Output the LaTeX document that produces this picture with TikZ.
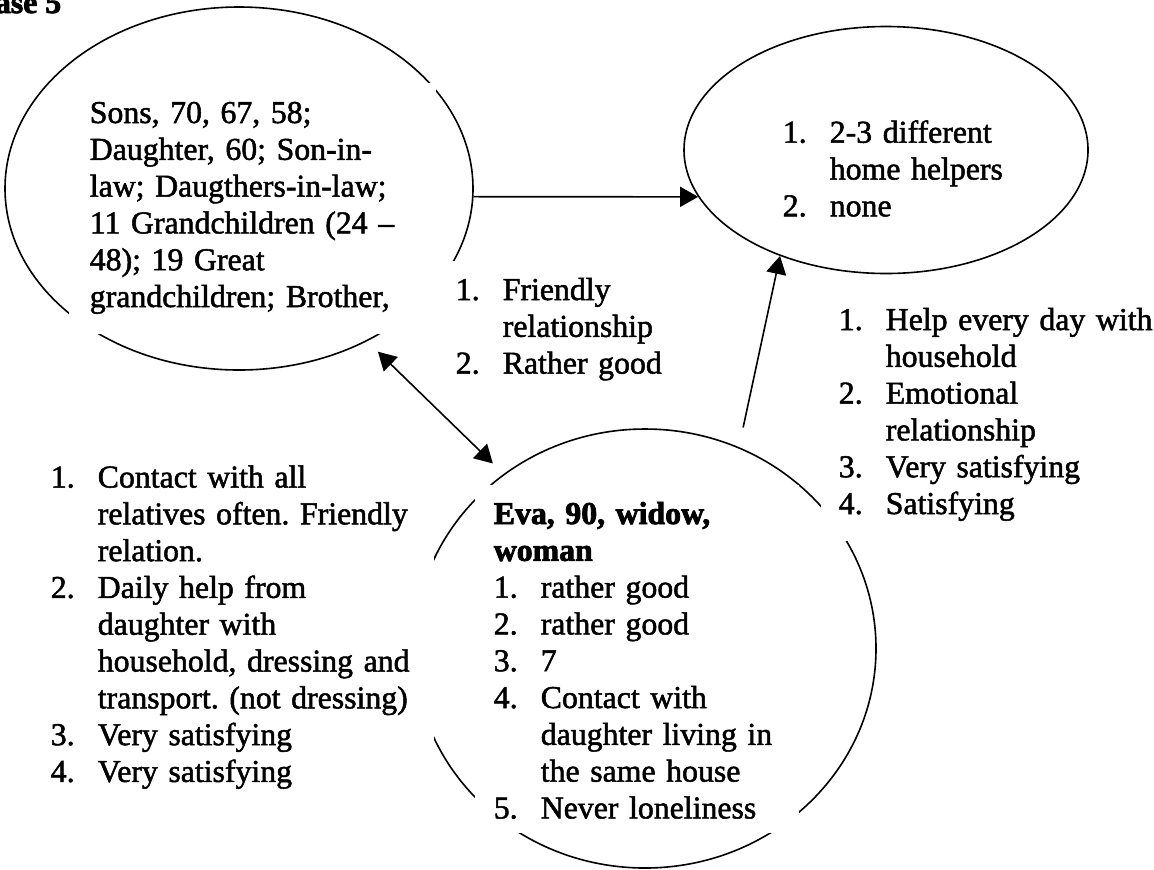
\documentclass[tikz,border=0pt]{standalone}
\usepackage{fontspec}
\setmainfont{Liberation Serif}[UprightFeatures={FakeBold=1.6},BoldFeatures={FakeBold=2.5}]
\usepackage{tikz}
\usetikzlibrary{arrows.meta}
\usetikzlibrary{shapes.geometric}

\newcommand{\numlab}[1]{\makebox[23.5pt][l]{#1}}
\newcommand{\indentl}{\hspace*{23.5pt}}
\newcommand{\txtsize}{\fontsize{15.9pt}{18.4pt}\selectfont\frenchspacing}

\begin{document}
\begin{tikzpicture}[x=0.5pt,y=-0.5pt,line width=0.8pt,
  oval/.style={draw,ellipse,inner sep=0pt},
  mask/.style={fill=white,inner sep=0pt,anchor=north west},
  txt/.style={anchor=base west,inner sep=0pt,text width=200pt,align=left,font=\txtsize},
  arr/.style={-{Triangle[length=9pt,width=10pt]}},
  dblarr/.style={{Triangle[length=9pt,width=10pt]}-{Triangle[length=9pt,width=10pt]}}]
\useasboundingbox (0,0) rectangle (1154,869);

\node[anchor=base east,inner sep=0pt,font=\txtsize\bfseries] (title) at (62,13) {Case 5};

%% ellipses
\node[oval,minimum width=234pt,minimum height=181.5pt] (family) at (239,188.5) {};
\node[oval,minimum width=202pt,minimum height=123.5pt] (helpers) at (886,150) {};
\node[oval,minimum width=231pt,minimum height=219.5pt] (eva) at (645,648.5) {};

%% white text boxes (they cut the ellipses)
\node[mask,minimum width=183.5pt,minimum height=125.5pt] (familybox) at (68,82) {};
\node[mask,minimum width=125pt,minimum height=65pt] (friendbox) at (430,260) {};
\node[mask,minimum width=167pt,minimum height=125pt] (helpbox) at (820,290) {};
\node[mask,minimum width=162pt,minimum height=174pt] (evabox) at (474,484) {};
\node[mask,minimum width=201.5pt,minimum height=170pt] (leftbox) at (30,460) {};

%% texts
\node[txt] (familytxt) at (89,123) {Sons, 70, 67, 58;\\
  Daughter, 60; Son-in-\\
  law; Daugthers-in-law;\\
  11 Grandchildren (24 --\\
  48); 19 Great\\
  grandchildren; Brother,};
\node[txt] (helperstxt) at (782,142.7) {\numlab{1.}2-3 different\\
  \indentl home helpers\\
  \numlab{2.}none};
\node[txt] (friendtxt) at (455,300) {\numlab{1.}Friendly\\
  \indentl relationship\\
  \numlab{2.}Rather good};
\node[txt] (helptxt) at (838,330) {\numlab{1.}Help every day with\\
  \indentl household\\
  \numlab{2.}Emotional\\
  \indentl relationship\\
  \numlab{3.}Very satisfying\\
  \numlab{4.}Satisfying};
\node[txt] (evatxt) at (493,524) {\textbf{Eva, 90, widow,}\\
  \textbf{woman}\\
  \numlab{1.}rather good\\
  \numlab{2.}rather good\\
  \numlab{3.}7\\
  \numlab{4.}Contact with\\
  \indentl daughter living in\\
  \indentl the same house\\
  \numlab{5.}Never loneliness};
\node[txt] (lefttxt) at (50,487.5) {\numlab{1.}Contact with all\\
  \indentl relatives often. Friendly\\
  \indentl relation.\\
  \numlab{2.}Daily help from\\
  \indentl daughter with\\
  \indentl household, dressing and\\
  \indentl transport. (not dressing)\\
  \numlab{3.}Very satisfying\\
  \numlab{4.}Very satisfying};

%% connectors
\draw[arr] (family.-2.57) -- (helpers.194.8);
\draw[dblarr,shorten <=7.5pt,shorten >=7.5pt] (family.-50.4) -- (eva.129.8);
\draw[arr,shorten <=10pt] (eva.65.2) -- (helpers.225.3);
\end{tikzpicture}
\end{document}
